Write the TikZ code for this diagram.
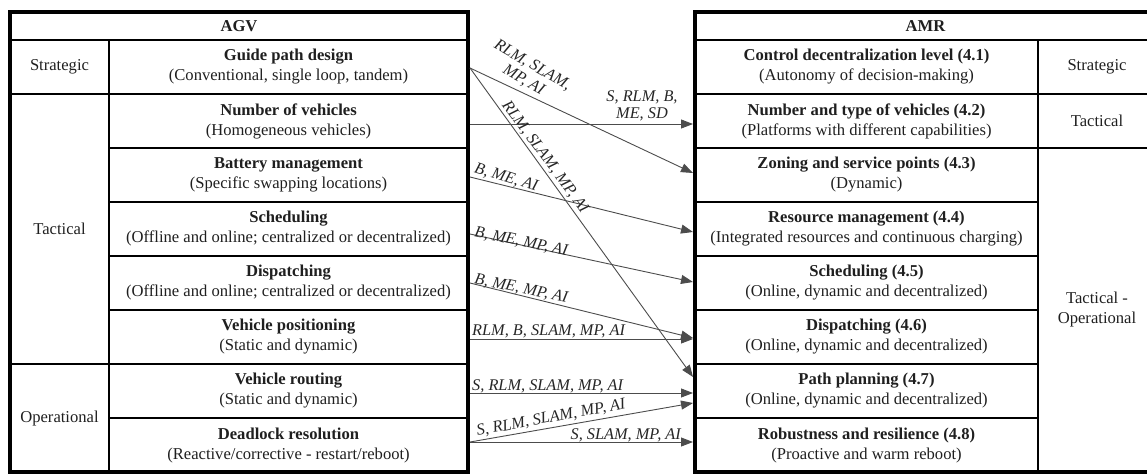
\documentclass[tikz,border=0pt]{standalone}
\usepackage{fontspec}
\setmainfont{Liberation Serif}
\usetikzlibrary{arrows.meta}
\begin{document}
\begin{tikzpicture}[x=1pt,y=-1pt,
  cell/.style={draw, line width=1.5pt, inner sep=0pt, outer sep=0pt, align=center,
    font=\fontsize{16.6}{20}\selectfont, text=black!88},
  frame/.style={line width=3.6pt},
  conn/.style={draw=black!70, line width=0.9pt, -{Triangle[length=12pt,width=9pt]}},
  lab/.style={font=\fontsize{16.3}{17.5}\selectfont\itshape, text=black!85, inner sep=0pt, align=center}]
\useasboundingbox (0,0) rectangle (1147,474);
\newcommand\mycell[6]{%
 \pgfmathsetmacro\cx{(#2+#4)/2}\pgfmathsetmacro\cy{(#3+#5)/2}%
 \pgfmathsetmacro\cw{#4-#2}\pgfmathsetmacro\ch{#5-#3}%
 \node[cell, minimum width=\cw pt, minimum height=\ch pt] (#1) at (\cx,\cy) {#6};}
% ---------- AGV table ----------
\mycell{agv}{10}{12}{468}{40}{\textbf{AGV}}
\mycell{lS}{10}{40}{109}{94}{Strategic}
\mycell{lT}{10}{94}{109}{364}{Tactical}
\mycell{lO}{10}{364}{109}{472}{Operational}
\mycell{g1}{109}{40}{468}{94}{\textbf{Guide path design}\\(Conventional, single loop, tandem)}
\mycell{g2}{109}{94}{468}{148}{\textbf{Number of vehicles}\\(Homogeneous vehicles)}
\mycell{g3}{109}{148}{468}{202}{\textbf{Battery management}\\(Specific swapping locations)}
\mycell{g4}{109}{202}{468}{256}{\textbf{Scheduling}\\(Offline and online; centralized or decentralized)}
\mycell{g5}{109}{256}{468}{310}{\textbf{Dispatching}\\(Offline and online; centralized or decentralized)}
\mycell{g6}{109}{310}{468}{364}{\textbf{Vehicle positioning}\\(Static and dynamic)}
\mycell{g7}{109}{364}{468}{418}{\textbf{Vehicle routing}\\(Static and dynamic)}
\mycell{g8}{109}{418}{468}{472}{\textbf{Deadlock resolution}\\(Reactive/corrective - restart/reboot)}
\draw[frame] (agv.north west) rectangle (g8.south east);
% ---------- AMR table ----------
\mycell{amr}{695}{12}{1156}{40}{\textbf{AMR}}
\mycell{r1}{695}{40}{1038}{94}{\textbf{Control decentralization level (4.1)}\\(Autonomy of decision-making)}
\mycell{r2}{695}{94}{1038}{148}{\textbf{Number and type of vehicles (4.2)}\\(Platforms with different capabilities)}
\mycell{r3}{695}{148}{1038}{202}{\textbf{Zoning and service points (4.3)}\\(Dynamic)}
\mycell{r4}{695}{202}{1038}{256}{\textbf{Resource management (4.4)}\\(Integrated resources and continuous charging)}
\mycell{r5}{695}{256}{1038}{310}{\textbf{Scheduling (4.5)}\\(Online, dynamic and decentralized)}
\mycell{r6}{695}{310}{1038}{364}{\textbf{Dispatching (4.6)}\\(Online, dynamic and decentralized)}
\mycell{r7}{695}{364}{1038}{418}{\textbf{Path planning (4.7)}\\(Online, dynamic and decentralized)}
\mycell{r8}{695}{418}{1038}{472}{\textbf{Robustness and resilience (4.8)}\\(Proactive and warm reboot)}
\mycell{rS}{1038}{40}{1156}{94}{Strategic}
\mycell{rT}{1038}{94}{1156}{148}{Tactical}
\mycell{rO}{1038}{148}{1156}{472}{Tactical -\\Operational}
\draw[frame] (amr.north west) rectangle (rO.south east);
% ---------- connector end points ----------
\coordinate (s1) at (470,68);
\coordinate (s2) at (470,124);
\coordinate (s3) at (470,177);
\coordinate (s4) at (470,234);
\coordinate (s5) at (470,283);
\coordinate (s6) at (470,339);
\coordinate (s7) at (470,393);
\coordinate (s8) at (470,442);
\coordinate (e3a) at (693,173);
\coordinate (e7a) at (693,377);
\coordinate (e2) at (693,124);
\coordinate (e4) at (693,232);
\coordinate (e5) at (693,282);
\coordinate (e6a) at (693,338);
\coordinate (e6b) at (693,339);
\coordinate (e7b) at (693,393);
\coordinate (e7c) at (693,403);
\coordinate (e8) at (693,442);
% ---------- connectors ----------
\draw[conn] (s1) -- (e3a);
\draw[conn] (s1) -- (e7a);
\draw[conn] (s2) -- (e2);
\draw[conn] (s3) -- (e4);
\draw[conn] (s4) -- (e5);
\draw[conn] (s5) -- (e6a);
\draw[conn] (s6) -- (e6b);
\draw[conn] (s7) -- (e7b);
\draw[conn] (s8) -- (e7c);
\draw[conn] (s8) -- (e8);
% ---------- labels ----------
\node[lab, rotate=-30] (l1a) at (528,73) {RLM, SLAM,\\MP, AI};
\node[lab, rotate=-53.5] (l1b) at (545,157) {RLM, SLAM, MP, AI};
\node[lab] (l2) at (642,106) {S, RLM, B,\\ME, SD};
\node[lab, rotate=-17] (l3) at (506,178) {B, ME, AI};
\node[lab, rotate=-11.5] (l4) at (521,242) {B, ME, MP, AI};
\node[lab, rotate=-11.5] (l5) at (521,289) {B, ME, MP, AI};
\node[lab, anchor=base west] (l6) at (472,335.5) {RLM, B, SLAM, MP, AI};
\node[lab, anchor=base west] (l7) at (472,390) {S, RLM, SLAM, MP, AI};
\node[lab, rotate=10.5] (l8a) at (551,418) {S, RLM, SLAM, MP, AI};
\node[lab, anchor=base east] (l8b) at (681,439) {S, SLAM, MP, AI};
\end{tikzpicture}
\end{document}
